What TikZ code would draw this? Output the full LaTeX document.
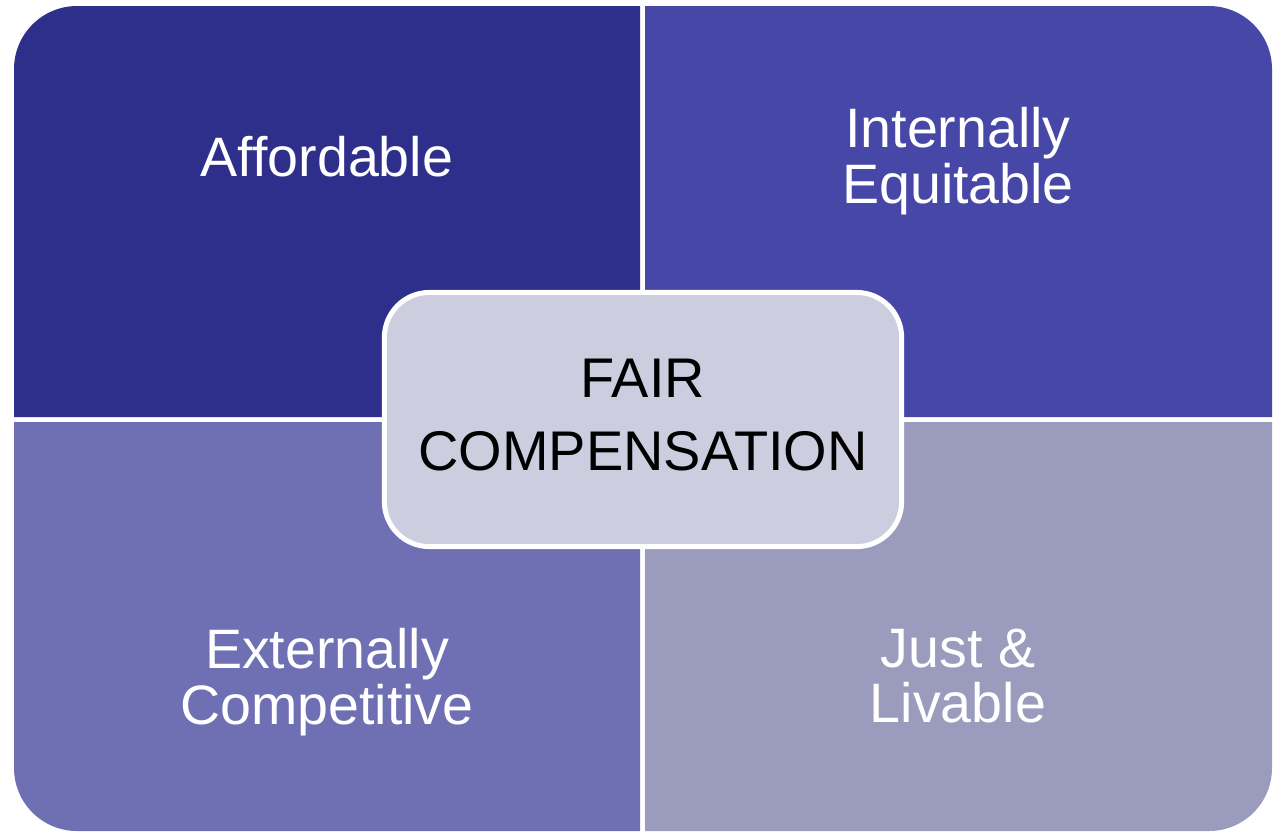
\documentclass[tikz,border=0pt]{standalone}
\usepackage{fontspec}
\setmainfont{Liberation Sans}
\definecolor{quadone}{HTML}{2E2F8A}
\definecolor{quadtwo}{HTML}{4747A7}
\definecolor{quadthree}{HTML}{6F70B3}
\definecolor{quadfour}{HTML}{9B9BBE}
\definecolor{centerfill}{HTML}{CDCDE0}
\tikzset{
	labelstyle/.style={text=white,align=center,inner sep=0,font=\fontsize{15.8}{15.9}\selectfont},
	centerstyle/.style={rectangle,rounded corners=0.45cm,draw=white,line width=0.05cm,fill=centerfill,minimum width=5.17cm,minimum height=2.54cm,inner sep=0},
	centertext/.style={align=center,inner sep=0,font=\fontsize{15.9}{21}\selectfont}
}
\begin{document}
\begin{tikzpicture}[x=0.01cm,y=-0.01cm]
	\useasboundingbox (0,0) rectangle (1276,832);
	\fill[quadone] (640,417) -- (14,417) [rounded corners=0.63cm] -- (14,6) [sharp corners] -- (640,6) -- cycle;
	\fill[quadtwo] (645,417) -- (645,6) [rounded corners=0.63cm] -- (1272,6) [sharp corners] -- (1272,417) -- cycle;
	\fill[quadthree] (640,422) -- (640,831) [rounded corners=0.63cm] -- (14,831) [sharp corners] -- (14,422) -- cycle;
	\fill[quadfour] (645,422) -- (1272,422) [rounded corners=0.63cm] -- (1272,831) [sharp corners] -- (645,831) -- cycle;
	\node[labelstyle] (afford) at (327,157) {Affordable};
	\node[labelstyle] (internal) at (958,161) {Internally\\Equitable};
	\node[labelstyle] (external) at (327,682) {Externally\\Competitive};
	\node[labelstyle] (just) at (958,676) {Just \&\\Livable};
	\node[centerstyle] (fair) at (643,419.5) {};
	\node[centertext] (fairtext) at (643,415) {FAIR\\COMPENSATION};
\end{tikzpicture}
\end{document}
